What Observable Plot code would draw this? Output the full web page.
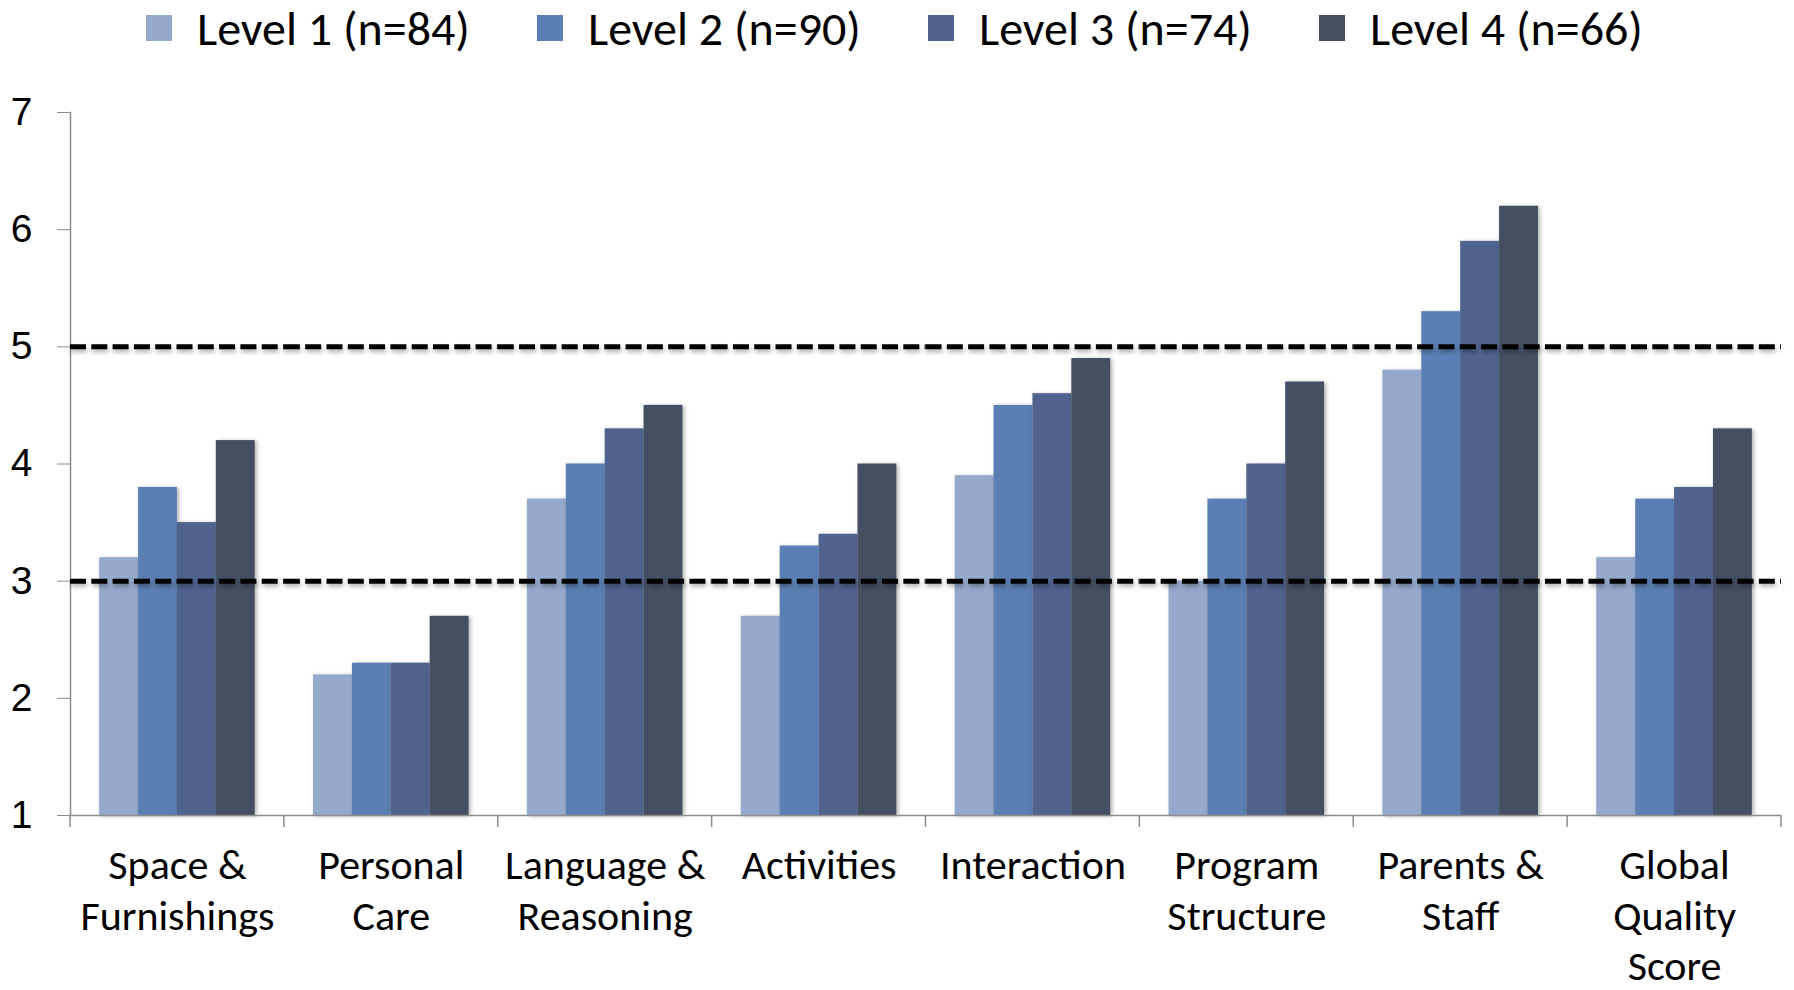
<!DOCTYPE html>
<html><head><meta charset="utf-8">
<script src="https://cdn.jsdelivr.net/npm/d3@7"></script>
<script src="https://cdn.jsdelivr.net/npm/@observablehq/plot@0.6"></script>
<style>
body{margin:0;background:#fff;}
#legend{position:relative;height:56px;width:1794px;font-family:Carlito,'Open Sans',sans-serif;}
.item{position:absolute;top:0;height:56px;display:flex;align-items:center;}
.sw{width:26px;height:26px;margin-right:25px;}
.lbl{font-size:48px;line-height:normal;color:#000;white-space:nowrap;}
.bars rect{filter:drop-shadow(2px 1px 2px rgba(0,0,0,0.3));}
.dash line{filter:drop-shadow(1px 3px 2px rgba(0,0,0,0.3));}
</style></head><body>
<div id="legend"></div><div id="chart"></div>
<script>
const categories = ["Space & Furnishings","Personal Care","Language & Reasoning","Activities","Interaction","Program Structure","Parents & Staff","Global Quality Score"];
const categoryLabels = ["Space &\nFurnishings","Personal\nCare","Language &\nReasoning","Activities","Interaction","Program\nStructure","Parents &\nStaff","Global\nQuality\nScore"];
const levels = ["Level 1 (n=84)","Level 2 (n=90)","Level 3 (n=74)","Level 4 (n=66)"];
const level1 = [3.2, 2.2, 3.7, 2.7, 3.9, 3.0, 4.8, 3.2];
const level2 = [3.8, 2.3, 4.0, 3.3, 4.5, 3.7, 5.3, 3.7];
const level3 = [3.5, 2.3, 4.3, 3.4, 4.6, 4.0, 5.9, 3.8];
const level4 = [4.2, 2.7, 4.5, 4.0, 4.9, 4.7, 6.2, 4.3];
const colors = ["#94a9cb","#5b7fb4","#4f638e","#444f62"];
const yTicks = [1,2,3,4,5,6,7];
const thresholds = [3,5];

const series = [level1, level2, level3, level4];
const data = categories.flatMap((c,i) => levels.map((l,j) => ({category:c, level:l, value:series[j][i]})));
const labelOf = new Map(categories.map((c,i)=>[c, categoryLabels[i]]));

// legend
const lg = d3.select("#legend");
levels.forEach((l,i) => {
  const it = lg.append("div").attr("class","item").style("left", (146 + i*391) + "px");
  it.append("div").attr("class","sw").style("background", colors[i]);
  it.append("div").attr("class","lbl").text(l);
});

const narrow = "Carlito, 'Open Sans', sans-serif";
const plot = Plot.plot({
  width:1794, height:934, marginTop:56, marginBottom:175, marginLeft:70, marginRight:13,
  style:{background:"#fff", fontFamily:narrow, color:"#000", overflow:"visible"},
  fx:{domain:categories, padding:0, round:false, label:null, axis:null},
  x:{type:"band", domain:levels, paddingInner:0, paddingOuter:0.75, round:false, axis:null},
  y:{domain:[1,7], axis:null, label:null},
  color:{domain:levels, range:colors},
  marks:[
    Plot.barY(data,{fx:"category", x:"level", y1:d=>1, y2:"value", fill:"level", className:"bars"}),
    Plot.ruleY([1],{stroke:"#8c8c8c", strokeWidth:1.5}),
    Plot.frame({anchor:"left", facetAnchor:"left", stroke:"#8c8c8c", strokeWidth:1.5}),
    Plot.ruleY(thresholds,{stroke:"#000", strokeWidth:5, strokeDasharray:"16,5.3", className:"dash"}),
    Plot.axisY({ticks:yTicks, label:null, tickSize:13, tickPadding:25, fontSize:39, fontFamily:"'Liberation Sans', Arial, sans-serif", stroke:"#8c8c8c", fill:"#000", tickFormat:d=>String(d)}),
    Plot.axisFx({anchor:"bottom", label:null, tickSize:0, tickPadding:28, fontSize:42, lineHeight:1.2, fill:"#000", tickFormat:c=>labelOf.get(c)})
  ]
});
document.getElementById("chart").appendChild(plot);

// category boundary ticks on the x axis, from Plot's own scales
const fx = plot.scale("fx"), ys = plot.scale("y");
const y0 = ys.apply(1);
const edges = categories.map(c => fx.apply(c)).concat([fx.apply(categories[categories.length-1]) + fx.bandwidth]);
d3.select(plot).append("g").selectAll("line").data(edges).join("line")
  .attr("x1", d=>d).attr("x2", d=>d).attr("y1", y0).attr("y2", y0 + 12)
  .attr("stroke", "#8c8c8c").attr("stroke-width", 1.5);
</script>
</body></html>
